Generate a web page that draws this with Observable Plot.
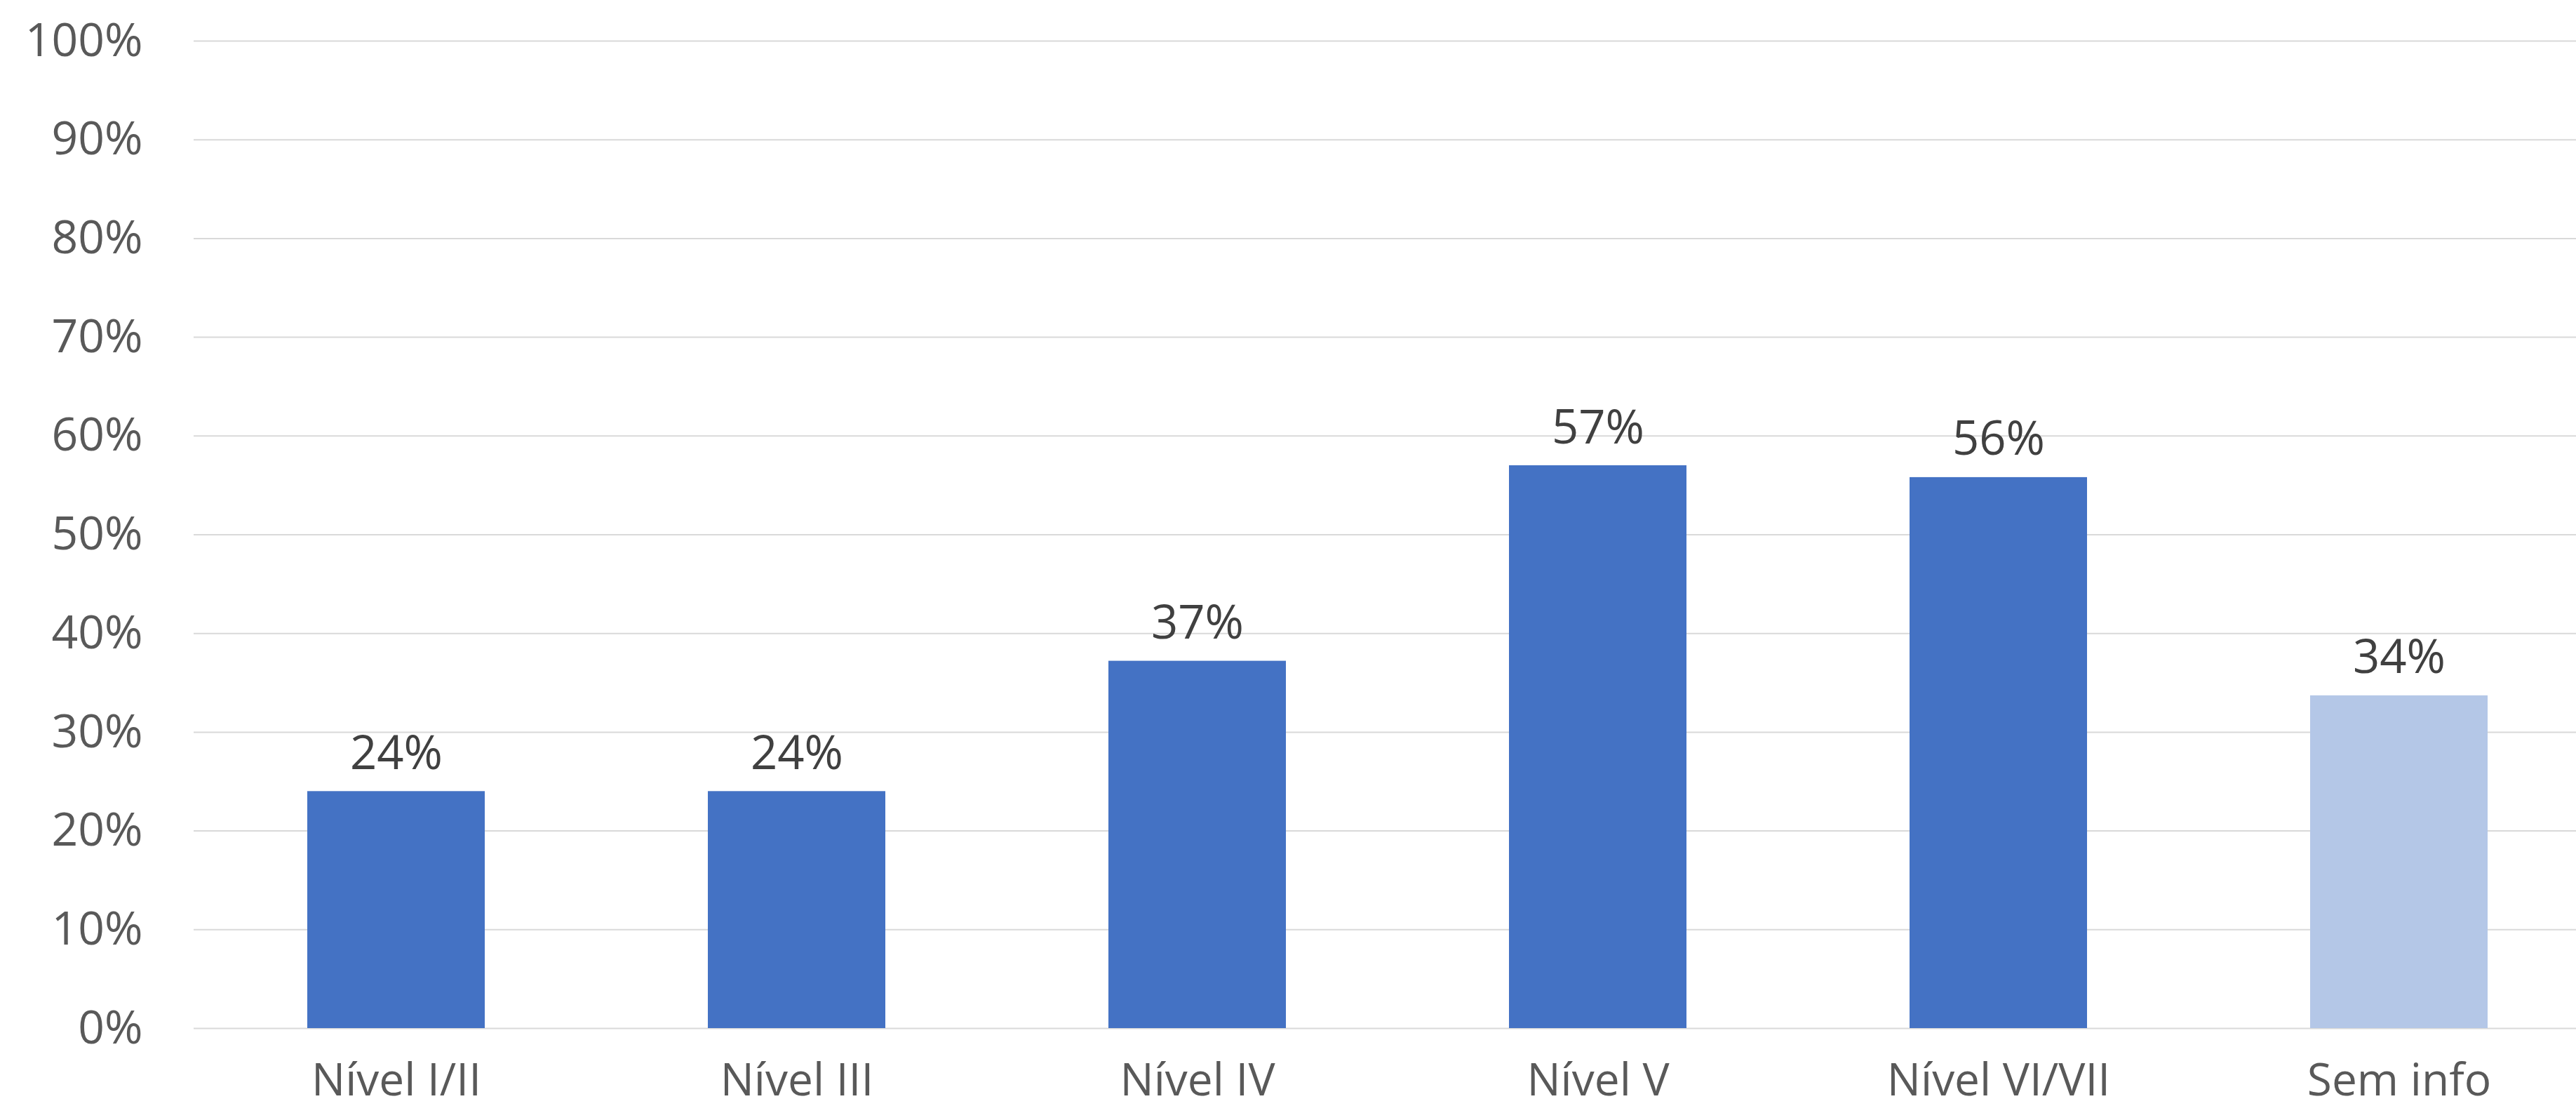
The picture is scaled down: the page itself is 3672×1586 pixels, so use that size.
<!DOCTYPE html>
<html>
<head>
<meta charset="utf-8">
<script src="https://cdn.jsdelivr.net/npm/d3@7"></script>
<script src="https://cdn.jsdelivr.net/npm/@observablehq/plot@0.6"></script>
<style>
  html, body { margin: 0; padding: 0; background: #fff; }
  svg { display: block; }
</style>
</head>
<body>
<div id="chart"></div>
<script>
const categories = ["Nível I/II", "Nível III", "Nível IV", "Nível V", "Nível VI/VII", "Sem info"];
const values = [24.0, 24.0, 37.2, 57.0, 55.8, 33.7];
const labels = ["24%", "24%", "37%", "57%", "56%", "34%"];
const kinds = ["known", "known", "known", "known", "known", "unknown"];
const yTicks = [0, 10, 20, 30, 40, 50, 60, 70, 80, 90, 100];

const data = categories.map((c, i) => ({category: c, value: values[i], label: labels[i], kind: kinds[i]}));

const chart = Plot.plot({
  width: 3672,
  height: 1586,
  marginTop: 58,
  marginBottom: 121,
  marginLeft: 276,
  marginRight: -35,
  style: {fontFamily: "'Open Sans', sans-serif", background: "#fff", overflow: "hidden"},
  x: {domain: categories, paddingInner: 0.557, paddingOuter: 0.2785, label: null},
  y: {domain: [0, 100], label: null},
  color: {domain: ["known", "unknown"], range: ["#4472C4", "#B4C7E7"]},
  marks: [
    Plot.ruleY(yTicks, {stroke: "#d9d9d9", strokeWidth: 2}),
    Plot.barY(data, {x: "category", y: "value", fill: "kind"}),
    Plot.text(data, {x: "category", y: "value", text: "label", lineAnchor: "bottom", dy: -32, fontSize: 67, fill: "#404040"}),
    Plot.axisY({ticks: yTicks, tickFormat: d => d + "%", tickSize: 0, tickPadding: 73, fontSize: 66, color: "#595959", label: null}),
    Plot.axisX({tickSize: 0, tickPadding: 50, fontSize: 64, color: "#595959", label: null})
  ]
});
document.getElementById("chart").appendChild(chart);
</script>
</body>
</html>
